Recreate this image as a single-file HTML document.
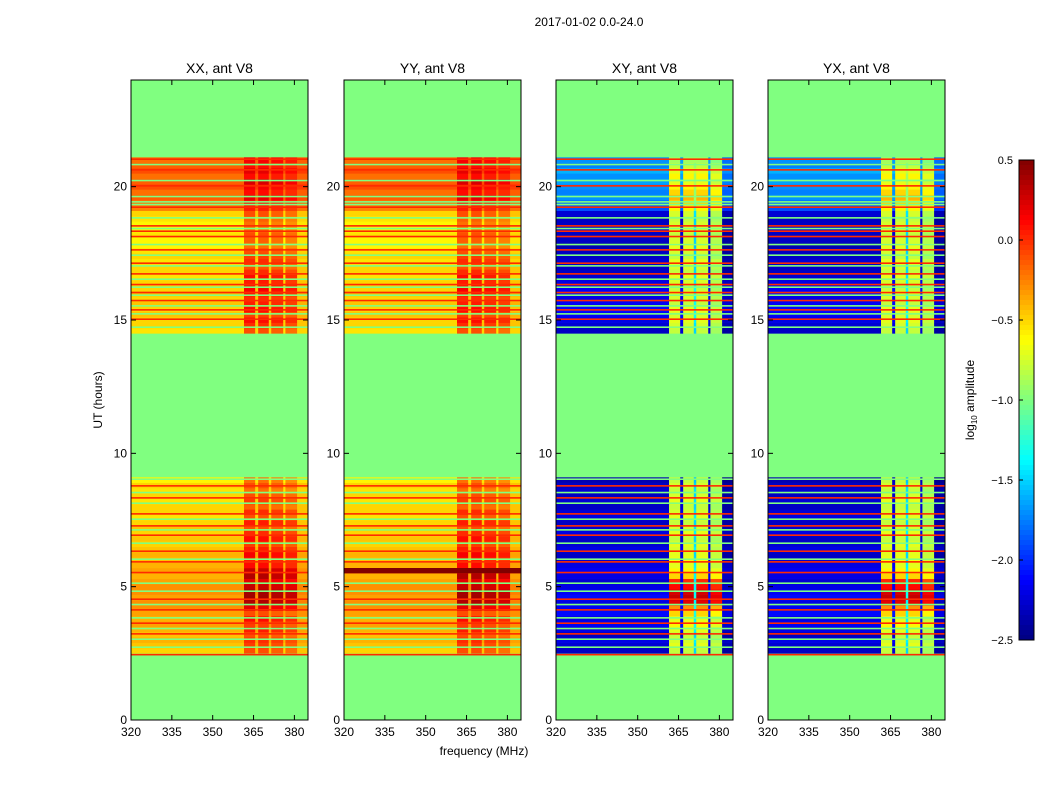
<!DOCTYPE html>
<html><head><meta charset="utf-8"><style>
body{margin:0;background:#fff;font-family:"Liberation Sans",sans-serif;}
svg text{font-family:"Liberation Sans",sans-serif;}
</style></head><body>
<svg id="fig" width="1050" height="800" xmlns="http://www.w3.org/2000/svg">
<rect width="1050" height="800" fill="#fff"/>
<text x="589" y="26" font-size="12" text-anchor="middle">2017-01-02 0.0-24.0</text>
<text x="102" y="400" font-size="12" text-anchor="middle" transform="rotate(-90 102 400)">UT (hours)</text>
<text x="484" y="755" font-size="12" text-anchor="middle">frequency (MHz)</text>
<text x="974" y="400" font-size="12" text-anchor="middle" transform="rotate(-90 974 400)">log<tspan font-size="8" dy="3">10</tspan><tspan dy="-3"> amplitude</tspan></text>
</svg>
<script>
// ---- data ----
const panelTitles = ["XX, ant V8","YY, ant V8","XY, ant V8","YX, ant V8"];
const panelLefts = [131,344,556,768];
const freqEdges = [320,361.5,365.6,366.7,370.6,371.5,375.9,376.7,381,385];
const blockStarts = [2.5,14.5];
const rowStep = 0.2;
const autoLow1 = [-0.5,-0.45,-0.4,-0.45,-0.4,-0.35,-0.4,-0.35,-0.3,-0.3,-0.35,-0.3,-0.3,-0.35,-0.4,-0.35,-0.4,-0.45,-0.4,-0.45,-0.5,-0.45,-0.5,-0.45,-0.5,-0.55,-0.5,-0.5,-0.55,-0.5,-0.55,-0.5,-0.6];
const autoHi1 = [-0.1,-0.05,0,-0.1,0.05,-0.05,0.1,-0.1,0.2,0.35,0.4,0.4,0.3,0.2,0.35,0.3,0.1,0.05,0.15,0.05,-0.05,0.1,0,-0.1,0.05,-0.1,0,-0.15,-0.05,-0.1,-0.2,-0.1,-0.2];
const autoLow2 = [-0.55,-0.5,-0.5,-0.45,-0.5,-0.45,-0.5,-0.45,-0.5,-0.5,-0.55,-0.5,-0.5,-0.55,-0.5,-0.55,-0.6,-0.6,-0.55,-0.6,-0.6,-0.55,-0.5,-0.25,-0.2,-0.15,-0.2,-0.1,-0.15,-0.2,-0.1,-0.15,-0.2];
const autoHi2 = [-0.1,0,0.1,-0.05,0.1,0.05,0,0.1,0.15,0.05,0.1,0,-0.1,0,-0.05,-0.1,-0.2,-0.15,-0.1,-0.2,-0.2,-0.15,-0.1,0.05,0.1,0.2,0.1,0.15,0.25,0.1,0.2,0.1,0.15];
const crossLow1 = [-2.3,-2.25,-2.2,-2.3,-2.2,-2.15,-2.2,-2.1,-2.15,-2.2,-2.1,-2.15,-2.2,-2.25,-2.2,-2.15,-2.2,-2.25,-2.3,-2.2,-2.25,-2.3,-2.2,-2.25,-2.3,-2.2,-2.25,-2.3,-2.25,-2.3,-2.25,-2.3,-2.35];
const crossHi1 = [-0.8,-0.7,-0.75,-0.8,-0.7,-0.6,-0.7,-0.5,-0.3,0.2,0.3,0.25,0.1,0,-0.5,-0.6,-0.7,-0.65,-0.7,-0.75,-0.7,-0.8,-0.7,-0.75,-0.8,-0.7,-0.75,-0.8,-0.7,-0.75,-0.8,-0.75,-0.8];
const crossLow2 = [-2.3,-2.25,-2.2,-2.15,-2.1,-2.15,-2.2,-2.1,-2.15,-2.2,-2.25,-2.3,-2.3,-2.25,-2.3,-2.3,-2.35,-2.3,-2.3,-2.25,-2.3,-2.3,-2.25,-1.9,-1.8,-1.7,-1.75,-1.7,-1.65,-1.7,-1.6,-1.75,-1.7];
const crossHi2 = [-0.8,-0.75,-0.7,-0.75,-0.7,-0.8,-0.75,-0.7,-0.8,-0.75,-0.7,-0.8,-0.75,-0.7,-0.8,-0.75,-0.7,-0.75,-0.8,-0.7,-0.75,-0.8,-0.75,-0.6,-0.5,-0.4,-0.5,-0.6,-0.7,-0.6,-0.7,-0.8,-0.9];
const autoColOff = [0,0,0.05,0,0.05,-0.05,0,-0.1,0.05];
const crossColOff = [0,0,0.05,0,0.8,0,0.05,-0.1,-0.1];
const redLines = [2.42,3.2,3.6,4.1,4.5,5.5,5.9,6.3,6.9,7.25,7.7,8.3,8.75,15.0,15.35,15.7,16.0,16.3,16.7,17.1,17.6,18.1,18.3,18.5,19.2,20.0,20.6,21.0];
const greenLines = [2.7,3.0,3.4,3.8,4.3,4.8,5.1,6.0,6.6,7.1,7.5,8.1,8.5,9.0,14.7,15.2,15.5,15.9,16.2,16.5,17.0,17.4,17.8,18.4,18.8,19.3,19.4,19.6,20.2,20.8];
const darkBands = [[],[5.5],[],[]];
const xTicks = [320,335,350,365,380];
const yTicks = [0,5,10,15,20];
const cbTicks = [0.5,0.0,-0.5,-1.0,-1.5,-2.0,-2.5];
const cbLabels = ["0.5","0.0","\u22120.5","\u22121.0","\u22121.5","\u22122.0","\u22122.5"];
// ---- geometry ----
const W=177, TOP=80, BOT=720, VMIN=-2.5, VMAX=0.5;
const fx = (f,left)=>left+(f-320)*(W/(385-320));
const ty = t=>BOT-(t/24)*(BOT-TOP);
function jet(v){
  let t=Math.max(0,Math.min(1,(v-VMIN)/(VMAX-VMIN)));
  const c=x=>Math.round(255*Math.max(0,Math.min(1,x)));
  return `rgb(${c(1.5-Math.abs(4*t-3))},${c(1.5-Math.abs(4*t-2))},${c(1.5-Math.abs(4*t-1))})`;
}
const NS="http://www.w3.org/2000/svg";
const svg=document.getElementById('fig');
function mk(tag,attrs,parent){const e=document.createElementNS(NS,tag);for(const k in attrs)e.setAttribute(k,attrs[k]);(parent||svg).appendChild(e);return e;}
panelTitles.forEach((title,p)=>{
  const left=panelLefts[p];
  const g=mk('g',{});
  
  
  const bg=mk('rect',{x:left,y:TOP,width:W,height:BOT-TOP,fill:jet(-1.0)},g);
  
  
  const cross=p>=2;
  const lows=cross?[crossLow1,crossLow2]:[autoLow1,autoLow2];
  const his=cross?[crossHi1,crossHi2]:[autoHi1,autoHi2];
  const off=cross?crossColOff:autoColOff;
  blockStarts.forEach((bs,b)=>{
    lows[b].forEach((lv,i)=>{
      const t0=bs+i*rowStep;
      for(let j=0;j<freqEdges.length-1;j++){
        const v=((j%2===1)?his[b][i]:lv)+off[j];
        const x0=fx(freqEdges[j],left), x1=fx(freqEdges[j+1],left);
        const r=mk('rect',{x:x0,y:ty(t0+rowStep),width:x1-x0+0.3,height:ty(t0)-ty(t0+rowStep)+0.3,fill:jet(v)},g);
        
        
      }
    });
  });
  const drawLine=(t,v,h)=>{
    const r=mk('rect',{x:left,y:ty(t+h),width:W,height:ty(t)-ty(t+h),fill:jet(v)},g);
    
    
  };
  greenLines.forEach(t=>drawLine(t,-1.0,0.06));
  redLines.forEach(t=>drawLine(t,0.0,0.06));
  darkBands[p].forEach(t=>drawLine(t,0.5,0.2));
  const fr=mk('rect',{x:left,y:TOP,width:W,height:BOT-TOP,fill:'none',stroke:'#000','stroke-width':1},g);
  
  
  const tt=mk('text',{x:left+W/2,y:73,'font-size':14,'text-anchor':'middle'},g);tt.textContent=title;
  
  
  xTicks.forEach(f=>{
    const x=fx(f,left);
    mk('line',{x1:x,x2:x,y1:BOT,y2:BOT-5,stroke:'#000'},g);
    mk('line',{x1:x,x2:x,y1:TOP,y2:TOP+5,stroke:'#000'},g);
    const l=mk('text',{x:x,y:BOT+16,'font-size':12,'text-anchor':'middle'},g);l.textContent=f;
    
    
  });
  yTicks.forEach(t=>{
    const y=ty(t);
    mk('line',{x1:left,x2:left+5,y1:y,y2:y,stroke:'#000'},g);
    mk('line',{x1:left+W,x2:left+W-5,y1:y,y2:y,stroke:'#000'},g);
    const l=mk('text',{x:left-4,y:y+4,'font-size':12,'text-anchor':'end'},g);l.textContent=t;
    
    
  });
});
// colorbar
const CBX=1019,CBW=15,CBT=160,CBB=640;
const cb=mk('g',{});


for(let k=0;k<96;k++){
  const v=VMAX-(k+0.5)*(VMAX-VMIN)/96;
  mk('rect',{x:CBX,y:CBT+k*(CBB-CBT)/96,width:CBW,height:(CBB-CBT)/96+0.5,fill:jet(v)},cb);
}
mk('rect',{x:CBX,y:CBT,width:CBW,height:CBB-CBT,fill:'none',stroke:'#000'},cb);
cbTicks.forEach((v,i)=>{
  const y=CBB-(v-VMIN)/(VMAX-VMIN)*(CBB-CBT);
  mk('line',{x1:CBX,x2:CBX+4,y1:y,y2:y,stroke:'#000'},cb);
  const l=mk('text',{x:CBX-6,y:y+4,'font-size':11,'text-anchor':'end'},cb);l.textContent=cbLabels[i];
  
  
});
</script>
</body></html>
